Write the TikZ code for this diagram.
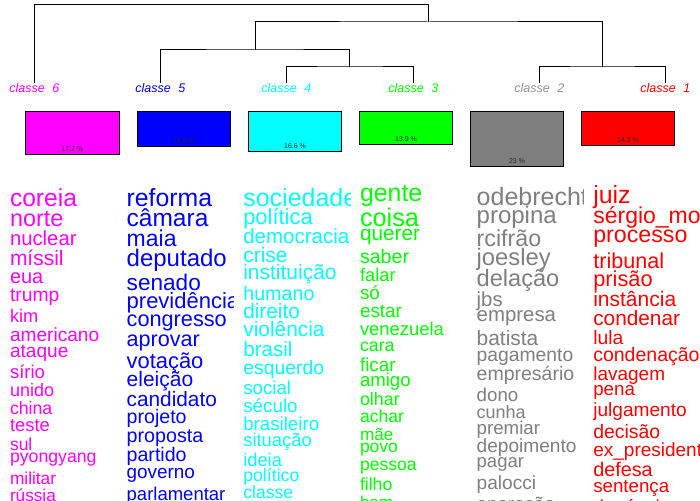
\documentclass[tikz,border=0pt]{standalone}
\usepackage{fontspec}
\setmainfont{Liberation Sans}
\definecolor{cmag}{HTML}{FF00FF}
\definecolor{cblue}{HTML}{0000FF}
\definecolor{ccyan}{HTML}{00FFFF}
\definecolor{cgreen}{HTML}{00FF00}
\definecolor{cgray}{HTML}{7F7F7F}
\definecolor{cred}{HTML}{FF0000}
\begin{document}
\begin{tikzpicture}[x=1pt,y=-1pt,
  wordnode/.style={anchor=base west, inner sep=0pt, outer sep=0pt},
  dendro/.style={line width=1pt, black},
  classbox/.style={draw=black, line width=0.9pt, anchor=north west, inner sep=0pt, minimum width=92.5pt},
  pct/.style={font=\fontsize{7}{7}\selectfont, anchor=base, inner sep=0pt, text=black!85},
  clabel/.style={font=\itshape\fontsize{12.5}{12.5}\selectfont, anchor=base, inner sep=0pt}]
\useasboundingbox (0,0) rectangle (700,500);
\fill[white] (0,0) rectangle (700,500);

% dendrogram
\coordinate (t6) at (34.3,83);
\coordinate (t5) at (160.3,83);
\coordinate (t4) at (286.3,83);
\coordinate (t3) at (413.3,83);
\coordinate (t2) at (539.3,83);
\coordinate (t1) at (665.3,83);
\coordinate (j43) at (349.8,67);
\coordinate (j21) at (602.3,67);
\coordinate (j543) at (255,50);
\coordinate (j54321) at (428.7,22);
\coordinate (root) at (428.7,4.5);
\draw[dendro] (t4) |- (j43) -| (t3);
\draw[dendro] (t2) |- (j21) -| (t1);
\draw[dendro] (t5) |- (j543) -| (j43);
\draw[dendro] (j543) |- (j54321) -| (j21);
\draw[dendro] (t6) |- (root) -- (j54321);

% class labels
\node[clabel, text=cmag] (l6) at (34.3,92.5) {classe\hspace{0.6em}6};
\node[clabel, text=cblue] (l5) at (160.3,92.5) {classe\hspace{0.6em}5};
\node[clabel, text=ccyan] (l4) at (286.3,92.5) {classe\hspace{0.6em}4};
\node[clabel, text=cgreen] (l3) at (413.3,92.5) {classe\hspace{0.6em}3};
\node[clabel, text=cgray!85] (l2) at (539.3,92.5) {classe\hspace{0.6em}2};
\node[clabel, text=cred] (l1) at (665.3,92.5) {classe\hspace{0.6em}1};

% boxes
\node[classbox, fill=cmag, minimum width=93.4pt, minimum height=42.4pt] (b6) at (25.3,111.3) {};
\node[classbox, fill=cblue, minimum height=35pt] (b5) at (137.3,111.3) {};
\node[classbox, fill=ccyan, minimum height=40pt] (b4) at (248.3,111.3) {};
\node[classbox, fill=cgreen, minimum height=33pt] (b3) at (359.3,111.3) {};
\node[classbox, fill=cgray, minimum height=54.7pt] (b2) at (470.3,111.3) {};
\node[classbox, fill=cred, minimum height=34pt] (b1) at (581.3,111.3) {};
\node[pct] (p6) at ([yshift=3.5pt]b6.south) {17.7 \%};
\node[pct] (p5) at ([yshift=3.5pt]b5.south) {14.6 \%};
\node[pct] (p4) at ([yshift=3.5pt]b4.south) {16.6 \%};
\node[pct] (p3) at ([yshift=3.5pt]b3.south) {13.9 \%};
\node[pct] (p2) at ([yshift=3.5pt]b2.south) {23 \%};
\node[pct] (p1) at ([yshift=3.5pt]b1.south) {14.2 \%};

% column 6
\begin{scope}
\clip (0,170) rectangle (116.67,500);
\foreach \y/\s/\t [count=\i] in {206/24.6/coreia, 226/23.4/norte, 245.3/20.3/nuclear, 265.3/21/míssil, 283.3/20/eua, 301.7/19.3/trump, 322.7/18.2/kim, 341.7/19.1/americano, 357.3/19.1/ataque, 378.3/18.5/sírio, 396/18/unido, 414/17.7/china, 431.7/18.4/teste, 450/17.5/sul, 462.7/17.7/pyongyang, 484/17.3/militar, 501/17.2/rússia}
  \node[wordnode, text=cmag, font=\fontsize{\s}{\s}\selectfont] (w6-\i) at (10,\y) {\t};
\end{scope}

% column 5
\begin{scope}
\clip (116.67,170) rectangle (233.33,500);
\foreach \y/\s/\t [count=\i] in {206/24.8/reforma, 226.7/24.5/câmara, 246.7/23/maia, 266/24/deputado, 290/22.6/senado, 308.3/22/previdência, 326.7/21.7/congresso, 346.7/21.6/aprovar, 368.3/21.9/votação, 386/21/eleição, 406.7/20.8/candidato, 423.3/19.6/projeto, 442.7/19.7/proposta, 461.7/19.6/partido, 478.3/18.9/governo, 500.5/18.5/parlamentar}
  \node[wordnode, text=cblue, font=\fontsize{\s}{\s}\selectfont] (w5-\i) at (126.7,\y) {\t};
\end{scope}

% column 4
\begin{scope}
\clip (233.33,170) rectangle (350,500);
\foreach \y/\s/\t [count=\i] in {206/25/sociedade, 224/21.9/política, 243.3/20.5/democracia, 262/21/crise, 279.3/21/instituição, 300/19.7/humano, 318.3/20.8/direito, 336.7/20.9/violência, 356.7/20.6/brasil, 374/19.4/esquerdo, 394.3/18.7/social, 412/18.8/século, 430/18.7/brasileiro, 446.7/18.4/situação, 466.7/18.3/ideia, 481.7/17.7/político, 498.3/17.6/classe}
  \node[wordnode, text=ccyan, font=\fontsize{\s}{\s}\selectfont] (w4-\i) at (243.3,\y) {\t};
\end{scope}

% column 3
\begin{scope}
\clip (350,170) rectangle (466.67,500);
\foreach \y/\s/\t [count=\i] in {201.7/24.9/gente, 226.7/25.3/coisa, 240/20.8/querer, 263.3/19.6/saber, 281.7/18.3/falar, 299.3/18.9/só, 317.3/18.9/estar, 335/18.4/venezuela, 351/17.8/cara, 371/18.9/ficar, 386.7/18.6/amigo, 405/17.9/olhar, 422.7/17.6/achar, 440/17.1/mãe, 452.7/17.5/povo, 470/17.6/pessoa, 490/17.6/filho, 508/17/bem}
  \node[wordnode, text=cgreen, font=\fontsize{\s}{\s}\selectfont] (w3-\i) at (360,\y) {\t};
\end{scope}

% column 2
\begin{scope}
\clip (466.67,170) rectangle (583.33,500);
\foreach \y/\s/\t [count=\i] in {205/25/odebrecht, 223.3/24/propina, 246/23.2/rcifrão, 265/23.8/joesley, 286/23.6/delação, 306/20.3/jbs, 321.7/20.4/empresa, 345/20.9/batista, 361.7/19.3/pagamento, 380.7/19.5/empresário, 401/18.7/dono, 418.3/18/cunha, 434/18.7/premiar, 452.7/19.1/depoimento, 467.3/18.5/pagar, 489.3/19.1/palocci, 510/18.7/operação}
  \node[wordnode, text=cgray, font=\fontsize{\s}{\s}\selectfont] (w2-\i) at (476.7,\y) {\t};
\end{scope}

% column 1
\begin{scope}
\clip (583.33,170) rectangle (700,500);
\foreach \y/\s/\t [count=\i] in {203.3/24.9/juiz, 223.3/23/sérgio\_moro, 242.7/23.2/processo, 268.3/21.6/tribunal, 286/21.8/prisão, 306.7/21/instância, 325/20.8/condenar, 344/19.3/lula, 361.7/19.5/condenação, 380/19/lavagem, 395/18.7/pena, 416.7/19.1/julgamento, 438.3/19.4/decisão, 456.7/19/ex\_presidente, 476.7/19.8/defesa, 492.7/18.7/sentença, 513/19/denúncia}
  \node[wordnode, text=cred, font=\fontsize{\s}{\s}\selectfont] (w1-\i) at (593.3,\y) {\t};
\end{scope}
\end{tikzpicture}
\end{document}
